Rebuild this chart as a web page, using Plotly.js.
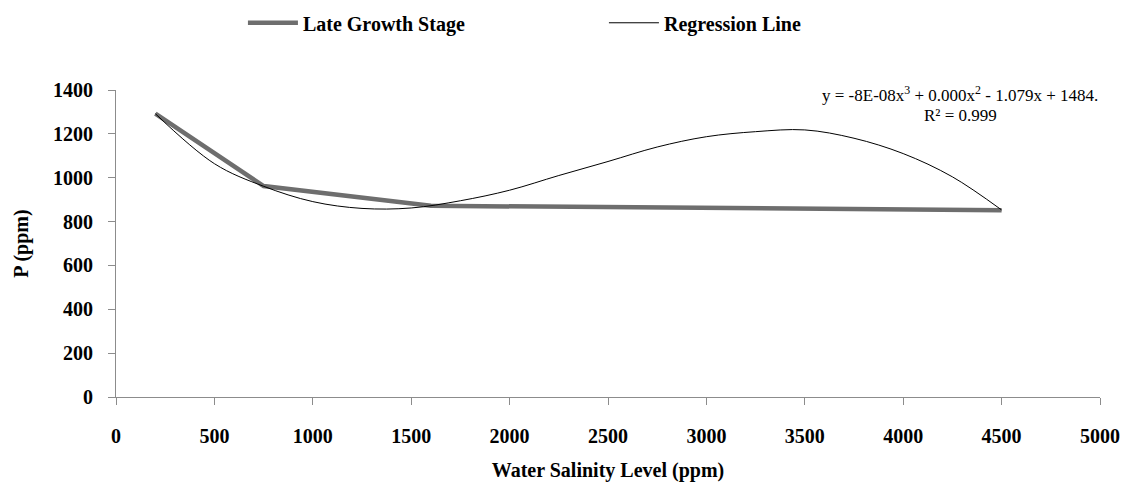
<!DOCTYPE html>
<html>
<head>
<meta charset="utf-8">
<script src="https://cdn.plot.ly/plotly-3.0.1.min.js"></script>
<style>html,body{margin:0;padding:0;background:#fff;}#chart{width:1130px;height:482px;}</style>
</head>
<body>
<div id="chart"></div>
<script>
const salinity = [200, 750, 1600, 4500];
const lateGrowth = [1292, 962, 872, 852];

const regX = [200, 500, 750, 1000, 1250, 1500, 1750, 2000, 2250, 2500, 2750, 3000, 3250, 3500, 3750, 4000, 4250, 4500];
const regY = [1292, 1064, 961, 891, 860, 862, 895, 943, 1010, 1074, 1140, 1187, 1210, 1218, 1180, 1110, 1004, 853];

const xTicks = [0, 500, 1000, 1500, 2000, 2500, 3000, 3500, 4000, 4500, 5000];
const yTicks = [0, 200, 400, 600, 800, 1000, 1200, 1400];

const serif = '"Liberation Serif"';
const fs = 20;

const traces = [
  {x: salinity, y: lateGrowth, type: 'scatter', mode: 'lines', name: '<b>Late Growth Stage</b>',
   line: {color: '#6e6e6e', width: 4.5}},
  {x: regX, y: regY, type: 'scatter', mode: 'lines', name: '<b>Regression Line</b>',
   line: {color: '#000000', width: 1, shape: 'spline', smoothing: 1}}
];

const axisCommon = {
  showgrid: false, zeroline: false, showline: true, linecolor: '#8c8c8c', linewidth: 1,
  ticks: 'outside', tickcolor: '#8c8c8c', ticklen: 7, tickwidth: 1, automargin: false,
  tickfont: {family: serif, size: fs, color: '#000'}
};

const layout = {
  width: 1130, height: 482,
  margin: {l: 116, r: 30, t: 90, b: 85, autoexpand: false},
  paper_bgcolor: '#fff', plot_bgcolor: '#fff',
  showlegend: true,
  legend: {orientation: 'h', x: 0.129, y: 1.219, xanchor: 'left', yanchor: 'middle',
           font: {family: serif, size: fs, color: '#000'}, entrywidth: 296, entrywidthmode: 'pixels',
           itemwidth: 50, bgcolor: 'rgba(0,0,0,0)'},
  xaxis: Object.assign({}, axisCommon, {
    range: [0, 5000], tickvals: xTicks, ticktext: xTicks.map(v => '<b>' + v + '</b>'),
    ticklabelstandoff: 14,
    title: {text: '<b>Water Salinity Level (ppm)</b>', font: {family: serif, size: fs, color: '#000'}, standoff: 21}
  }),
  yaxis: Object.assign({}, axisCommon, {
    range: [0, 1400], tickvals: yTicks, ticktext: yTicks.map(v => '<b>' + v + '</b>'),
    ticklabelstandoff: 11,
    title: {text: '<b>P (ppm)</b>', font: {family: serif, size: fs, color: '#000'}, standoff: 19}
  }),
  annotations: [
    {xref: 'paper', yref: 'paper', x: (960 - 116) / 984, y: (397 - 94) / 307, xanchor: 'center', yanchor: 'middle',
     text: 'y = -8E-08x<sup>3</sup> + 0.000x<sup>2</sup> - 1.079x + 1484.', showarrow: false,
     font: {family: serif, size: 17, color: '#000'}},
    {xref: 'paper', yref: 'paper', x: (960 - 116) / 984, y: (397 - 115) / 307, xanchor: 'center', yanchor: 'middle',
     text: 'R² = 0.999', showarrow: false,
     font: {family: serif, size: 17, color: '#000'}}
  ]
};

Plotly.newPlot('chart', traces, layout, {displayModeBar: false, staticPlot: true});
</script>
</body>
</html>
